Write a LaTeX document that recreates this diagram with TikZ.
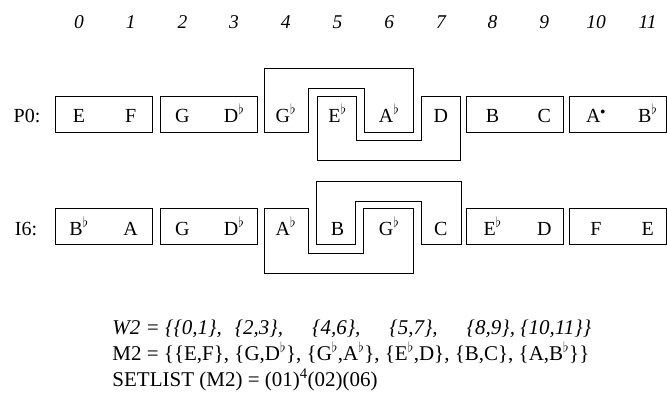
\documentclass[tikz,border=0pt]{standalone}
\usepackage{fontspec}
\setmainfont{Liberation Serif}
\newcommand{\fl}{\ensuremath{^{\flat}}}
\newcommand{\dt}{\ensuremath{^{\scriptscriptstyle\bullet}}}

\begin{document}
\begin{tikzpicture}[x=1pt,y=-1pt,line width=0.95pt]
\tikzstyle{num}=[font=\fontsize{19.5}{20}\selectfont\itshape,inner sep=0pt,anchor=base]
\tikzstyle{note}=[font=\fontsize{20}{20}\selectfont,inner sep=0pt,anchor=base]
\tikzstyle{pairbox}=[draw,minimum width=97pt,minimum height=36pt,inner sep=0pt]
\tikzstyle{textline}=[font=\fontsize{21}{22}\selectfont,inner sep=0pt,anchor=base west]

\useasboundingbox (0,0) rectangle (667,394);

% order numbers
\foreach \i in {0,...,11}
  \node[num] (n\i) at ({79+51.7*\i},28) {\i};

% P0 row
\node[note] (P0) at (27,122) {P0:};
\foreach \i/\t in {0/E,1/F,2/G,3/D\fl,4/G\fl,5/E\fl,6/A\fl,7/D,8/B,9/C,10/A\dt,11/B\fl}
  \node[note] (p\i) at ({79+51.7*\i},122) {\t};
\node[pairbox] (pEF) at (104,114) {};
\node[pairbox] (pGD) at (208.5,114) {};
\node[pairbox] (pBC) at (515,114) {};
\node[pairbox] (pAB) at (618,114) {};
\draw (264,68) -- (413,68) -- (413,132) -- (364,132) -- (364,88) -- (308,88) -- (308,132) -- (264,132) -- cycle;
\draw (317,96) -- (356,96) -- (356,140) -- (421,140) -- (421,96) -- (460,96) -- (460,160) -- (317,160) -- cycle;

% I6 row
\node[note] (I6) at (26,235) {I6:};
\foreach \i/\t in {0/B\fl,1/A,2/G,3/D\fl,4/A\fl,5/B,6/G\fl,7/C,8/E\fl,9/D,10/F,11/E}
  \node[note] (q\i) at ({79+51.7*\i},235) {\t};
\node[pairbox] (qBA) at (104,226) {};
\node[pairbox] (qGD) at (208.5,226) {};
\node[pairbox] (qED) at (515,226) {};
\node[pairbox] (qFE) at (618,226) {};
\draw (264,208) -- (308,208) -- (308,253) -- (363,253) -- (363,208) -- (413,208) -- (413,273) -- (264,273) -- cycle;
\draw (316,181) -- (461,181) -- (461,244) -- (421,244) -- (421,201) -- (355,201) -- (355,244) -- (316,244) -- cycle;

% segmentation
\node[textline] (W2) at (112,334) {\itshape W2 = \{\{0,1\},\hspace{13pt}\{2,3\},\hspace{29pt}\{4,6\},\hspace{29pt}\{5,7\},\hspace{29pt}\{8,9\}, \{10,11\}\}};
\node[textline] (M2) at (112,360) {M2 = \{\{E,F\}, \{G,D\fl\}, \{G\fl,A\fl\}, \{E\fl,D\}, \{B,C\}, \{A,B\fl\}\}};
\node[textline] (SL) at (112,386) {SETLIST (M2) = (01)\textsuperscript{4}(02)(06)};
\end{tikzpicture}
\end{document}
